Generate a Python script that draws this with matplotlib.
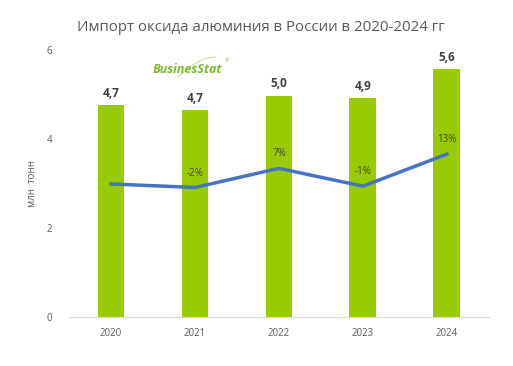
import matplotlib.pyplot as plt
import numpy as np

years = ['2020', '2021', '2022', '2023', '2024']
volume = [4.76, 4.65, 4.97, 4.92, 5.57]
volume_labels = ['4,7', '4,7', '5,0', '4,9', '5,6']
growth_line = [2.99, 2.91, 3.34, 2.94, 3.66]
growth_labels = ['', '-2%', '7%', '-1%', '13%']

plt.rcParams['font.family'] = ['Open Sans', 'DejaVu Sans']

fig = plt.figure(figsize=(5.13, 3.66), dpi=100)
ax = fig.add_axes([0.1345, 0.1339, 0.8185, 0.7295])

x = np.arange(len(years))
ax.bar(x, volume, width=0.32, color='#99CC00', zorder=2)
ax.plot(x, growth_line, color='#4472C4', linewidth=2.5, zorder=3)

for i, v in enumerate(volume):
    ax.text(i, v + 0.12, volume_labels[i], ha='center', va='bottom',
            fontsize=8.5, fontweight='bold', color='#404040')
for i, g in enumerate(growth_labels):
    if g:
        ax.text(i, growth_line[i] + 0.2, g, ha='center', va='bottom',
                fontsize=7, color='#404040')

ax.set_xlim(-0.5, 4.5)
ax.set_ylim(0, 6)
ax.set_xticks(x)
ax.set_xticklabels(years)
ax.set_yticks([0, 2, 4, 6])
ax.tick_params(length=0, labelsize=7, colors='#595959', pad=8)
ax.tick_params(axis='y', pad=12)
for s in ['top', 'right', 'left']:
    ax.spines[s].set_visible(False)
ax.spines['bottom'].set_color('#D9D9D9')
ax.set_ylabel('млн  тонн', fontsize=7, color='#595959', labelpad=6)

fig.text(0.508, 0.925, 'Импорт оксида алюминия в России в 2020-2024 гг',
         ha='center', va='center', fontsize=10.8, color='#595959')

# logo
sx = np.linspace(0.26, 0.35, 20)
sy = 0.9 + 0.035 * np.sin((sx - 0.26) / 0.09 * 2.2) + (sx - 0.26) * 0.5
ax.plot(sx, sy, transform=ax.transAxes, color='#C8E39A', linewidth=0.8)
ax.text(0.2, 0.928, 'BusinesStat', transform=ax.transAxes, fontsize=9,
        fontweight='bold', fontstyle='italic', color='#7DBB2A', ha='left', va='center')
ax.text(0.37, 0.96, '®', transform=ax.transAxes, fontsize=4,
        color='#7DBB2A', ha='left', va='center')

plt.savefig('out.png', dpi=100)
